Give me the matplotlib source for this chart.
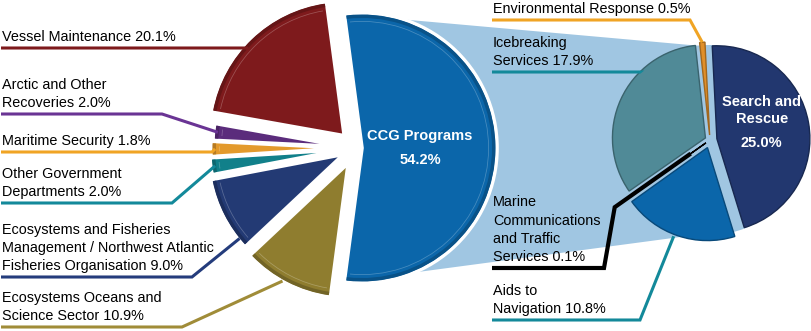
import numpy as np
import matplotlib.pyplot as plt
import matplotlib.colors as mcolors
from matplotlib.patches import Polygon, Circle, Wedge

plt.rcParams['font.family'] = ['Liberation Sans', 'DejaVu Sans']

# ---------------------------------------------------------------
# data
# ---------------------------------------------------------------

prog_labels = [
    "CCG Programs",
    "Vessel Maintenance",
    "Arctic and Other\nRecoveries",
    "Maritime Security",
    "Other Government\nDepartments",
    "Ecosystems and Fisheries\nManagement / Northwest Atlantic\nFisheries Organisation",
    "Ecosystems Oceans and\nScience Sector",
]
prog_values = [54.2, 20.1, 2.0, 1.8, 2.0, 9.0, 10.9]
prog_colors = ["#0b66aa", "#7e1a1c", "#5b2c7c", "#e39a2c", "#11808a", "#233a74", "#8f7d2f"]
prog_lines = ["#0b66aa", "#7e1a1c", "#6a3494", "#f0a424", "#13899a", "#243c7c", "#a08c38"]

ccg_labels = [
    "Search and\nRescue",
    "Environmental Response",
    "Icebreaking\nServices",
    "Marine\nCommunications\nand Traffic\nServices",
    "Aids to\nNavigation",
]
ccg_values = [25.0, 0.5, 17.9, 0.1, 10.8]
ccg_colors = ["#22376f", "#e08f2a", "#508a97", "#000000", "#0b66aa"]
ccg_lines = ["#22376f", "#f0a424", "#13899a", "#000000", "#13899a"]

connector_color = "#a0c6e2"

# ---------------------------------------------------------------
# layout (pixel units, y measured upward)
# ---------------------------------------------------------------

W, H = 811, 331

left_center = (356, H - 148)
left_r = 135
left_explode = [6, 17, 8, 10, 11, 14, 17]

right_center = (710, H - 140)
right_r = 93
right_explode = [7, 5, 5, 5, 8]
right_mid_angle = 10

# leader lines: label line y, elbow x, where on the wedge (fraction of arc), radius fraction
left_leaders = {
    1: dict(y=H - 48, elbow=247, t=0.56, rf=0.96),
    2: dict(y=H - 114, elbow=162, t=0.5, rf=0.97),
    3: dict(y=H - 152, elbow=212, t=0.5, rf=0.97),
    4: dict(y=H - 203, elbow=172, t=0.5, rf=0.97),
    5: dict(y=H - 277, elbow=192, t=0.87, rf=0.99),
    6: dict(y=H - 327, elbow=182, t=0.45, rf=1.0),
}
right_leaders = {
    1: dict(y=H - 20, elbow=690, t=0.5, rf=1.0),
    2: dict(y=H - 72, elbow=640, t=0.33, rf=1.0),
    3: dict(y=H - 268, elbow=604, t=0.5, rf=0.2, out=1.2),
    4: dict(y=H - 320, elbow=640, t=0.47, rf=1.02),
}
left_text_x = 1
right_text_x = 492


def darker(c, f=0.72):
    r, g, b = mcolors.to_rgb(c)
    return (r * f, g * f, b * f)


def lighter(c, f=0.35):
    r, g, b = mcolors.to_rgb(c)
    return (r + (1 - r) * f, g + (1 - g) * f, b + (1 - b) * f)


def on_wedge(w, t, rf):
    a = np.deg2rad(w.theta1 + t * (w.theta2 - w.theta1))
    cx, cy = w.center
    return cx + rf * w.r * np.cos(a), cy + rf * w.r * np.sin(a)


def add_rim(w, color, gap=2.0, band=3.5):
    # darker band along the outer arc, plus a faint highlight just inside it
    da = np.rad2deg(gap / w.r)
    t1, t2 = w.theta1 + da, w.theta2 - da
    ax.add_patch(Wedge(w.center, w.r - 1.5, t1, t2, width=band,
                       facecolor=darker(color, 0.8), edgecolor="none", zorder=3.5))
    ax.add_patch(Wedge(w.center, w.r - 1.5 - band - 3, t1 + 1.5 * da, t2 - 1.5 * da,
                       width=0.8, facecolor=lighter(color), edgecolor="none",
                       alpha=0.7, zorder=3.5))


fig = plt.figure(figsize=(W / 100, H / 100), dpi=100)
ax = fig.add_axes([0, 0, 1, 1])

# ---------------------------------------------------------------
# left pie
# ---------------------------------------------------------------

total = sum(prog_values)
start_left = -360 * prog_values[0] / total / 2

wl, _ = ax.pie(
    prog_values,
    colors=prog_colors,
    center=left_center,
    radius=left_r,
    startangle=start_left,
    counterclock=True,
    explode=left_explode,
    frame=True,
    wedgeprops=dict(linewidth=2.6, edgecolor="white", zorder=3),
)
for w, c in zip(wl, prog_colors):
    add_rim(w, c)

# ---------------------------------------------------------------
# right pie (breakdown of CCG Programs)
# ---------------------------------------------------------------

sub_total = sum(ccg_values)
start_right = right_mid_angle - 360 * ccg_values[0] / sub_total / 2

wr, _ = ax.pie(
    ccg_values,
    colors=ccg_colors,
    center=right_center,
    radius=right_r,
    startangle=start_right,
    counterclock=True,
    explode=right_explode,
    frame=True,
    wedgeprops=dict(linewidth=1.0, zorder=4),
)
for w, c in zip(wr, ccg_colors):
    w.set_edgecolor(darker(c))

# connector band between the CCG wedge and the second pie
ccg = wl[0]
p_top = on_wedge(ccg, 1.0, 1.0)
p_bot = on_wedge(ccg, 0.0, 1.0)
rx, ry = right_center
q_top = (rx + right_r * np.cos(np.deg2rad(88)), ry + right_r * np.sin(np.deg2rad(88)))
q_bot = (rx + right_r * np.cos(np.deg2rad(-75)), ry + right_r * np.sin(np.deg2rad(-75)))
ax.add_patch(Polygon([p_top, q_top, q_bot, p_bot, ccg.center], closed=True,
                     facecolor=connector_color, edgecolor="none", zorder=1))
ax.add_patch(Circle(right_center, right_r + 2, facecolor=connector_color,
                    edgecolor="none", zorder=1))

# ---------------------------------------------------------------
# labels inside the big wedges
# ---------------------------------------------------------------

def inner_label(w, name, value, rf):
    x, y = on_wedge(w, 0.5, rf)
    ax.text(x, y + 5, name, color="white", fontsize=10.5, fontweight="bold",
            ha="center", va="bottom", linespacing=1.25, zorder=6)
    ax.text(x, y - 5, f"{value:.1f}%", color="white", fontsize=10.5,
            fontweight="bold", ha="center", va="top", zorder=6)


inner_label(wl[0], prog_labels[0], prog_values[0], 0.43)
inner_label(wr[0], ccg_labels[0], ccg_values[0], 0.49)

# ---------------------------------------------------------------
# outside labels with leader lines
# ---------------------------------------------------------------

def leader(w, label, value, color, x0, spec, lw=2.2):
    y = spec["y"]
    pts = [(x0, y), (spec["elbow"], y)]
    if "out" in spec:
        pts.append(on_wedge(w, spec["t"], spec["out"]))
    pts.append(on_wedge(w, spec["t"], spec["rf"]))
    xs, ys = zip(*pts)
    ax.plot(xs, ys, color=color, linewidth=lw, solid_capstyle="butt",
            solid_joinstyle="miter", zorder=5)
    ax.text(x0 + 1, y + 4, f"{label} {value:.1f}%", fontsize=10.4,
            color="black", ha="left", va="bottom", linespacing=1.38, zorder=6)


for i, spec in left_leaders.items():
    leader(wl[i], prog_labels[i], prog_values[i], prog_lines[i], left_text_x, spec)

for i, spec in right_leaders.items():
    lw = 3.0 if ccg_colors[i] == "#000000" else 2.2
    leader(wr[i], ccg_labels[i], ccg_values[i], ccg_lines[i], right_text_x, spec, lw=lw)

ax.set_xlim(0, W)
ax.set_ylim(0, H)
ax.set_aspect("equal")
ax.axis("off")

plt.savefig("out.png", dpi=100)
plt.close(fig)
